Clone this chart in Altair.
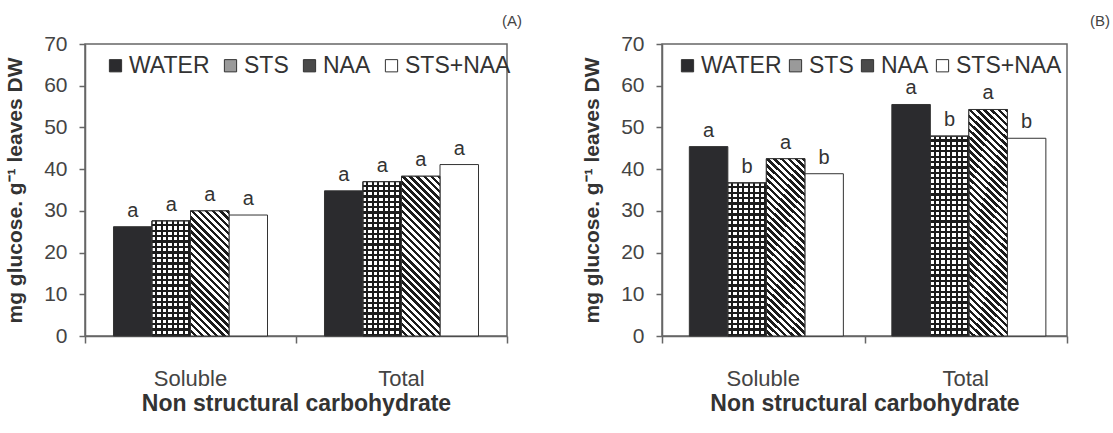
import altair as alt

# ---- data -------------------------------------------------------------
categories = ["Soluble", "Total"]
treatments = ["WATER", "STS", "NAA", "STS+NAA"]

# Panel (A)
a_soluble = [26.2, 27.6, 30.0, 29.0]
a_total = [34.8, 37.0, 38.3, 41.1]
a_letters_soluble = ["a", "a", "a", "a"]
a_letters_total = ["a", "a", "a", "a"]

# Panel (B)
b_soluble = [45.4, 36.7, 42.5, 38.9]
b_total = [55.5, 47.9, 54.3, 47.4]
b_letters_soluble = ["a", "b", "a", "b"]
b_letters_total = ["a", "b", "a", "b"]

# ---- layout / style ----------------------------------------------------
Y_MAX = 70
PLOT_H = 292
WIDTH_A = 422
WIDTH_B = 405
PAD_INNER = 0.27
FONT = "Liberation Sans"
INK = "#1c1c1c"
AXIS_GREY = "#666666"
legend_fill = ["#2b2b2e", "#9a9a9a", "#4a4a4a", "#ffffff"]


def stripe_stops(n, ink, gap, duty):
    """Hard-edged alternating stops: n periods, `duty` share of gap colour."""
    stops = []
    for i in range(n):
        a, b, c = i / n, (i + duty) / n, (i + 1) / n
        stops += [
            {"offset": a, "color": gap},
            {"offset": b, "color": gap},
            {"offset": b, "color": ink},
            {"offset": c, "color": ink},
        ]
    return stops


def diagonal_fill(w, h, period=7.0):
    # gradient vector in bounding-box units chosen so stripes run at 45 degrees
    k = h / w
    du = (1 + k) / (1 + k * k)
    n = max(1, round((w + h) / period))
    return {"gradient": "linear", "x1": 0, "y1": 1, "x2": du, "y2": 1 - du * k,
            "stops": stripe_stops(n, INK, "#ffffff", 0.5)}


def columns_fill(w, period=5.4):
    n = max(1, round(w / period))
    return {"gradient": "linear", "x1": 0, "y1": 0, "x2": 1, "y2": 0,
            "stops": stripe_stops(n, INK, "#ffffff", 0.58)}


def rows_fill(h, period=5.4):
    n = max(1, round(h / period))
    return {"gradient": "linear", "x1": 0, "y1": 0, "x2": 0, "y2": 1,
            "stops": stripe_stops(n, INK, "rgba(255,255,255,0)", 0.58)}


def build_records(sol, tot, let_s, let_t, plot_w):
    bar_w = plot_w / len(categories) * (1 - PAD_INNER) / len(treatments)
    recs = []
    for cat, vals, lets in ((categories[0], sol, let_s), (categories[1], tot, let_t)):
        for t, v, l in zip(treatments, vals, lets):
            h = v / Y_MAX * PLOT_H
            rec = {"cat": cat, "treat": t, "value": v, "letter": l}
            if t == "NAA":
                rec["g1"] = diagonal_fill(bar_w, h)
            elif t == "STS":
                rec["g1"] = columns_fill(bar_w)
                rec["g2"] = rows_fill(h)
            recs.append(rec)
    return recs


def panel(recs, plot_w, tag, tag_dx, legend_x, legend_gap):
    data = alt.Data(values=recs)

    x_enc = alt.X(
        "cat:N", sort=categories,
        scale=alt.Scale(domain=categories, paddingInner=PAD_INNER, paddingOuter=PAD_INNER / 2),
        axis=alt.Axis(orient="bottom", title="Non structural carbohydrate", ticks=False,
                      domain=False, labelAngle=0, labelPadding=32, labelFontSize=22,
                      labelColor="#444444", labelFont=FONT, titleFont=FONT,
                      titleFontSize=23, titleFontWeight="bold", titleColor="#333333",
                      titlePadding=3),
    )
    xo_enc = alt.XOffset("treat:N", sort=treatments,
                         scale=alt.Scale(domain=treatments, paddingInner=0, paddingOuter=0))
    y_enc = alt.Y(
        "value:Q",
        scale=alt.Scale(domain=[0, Y_MAX], nice=False),
        axis=alt.Axis(values=list(range(0, Y_MAX + 1, 10)), grid=False,
                      title="mg glucose. g\u207b\u00b9 leaves  DW",
                      tickSize=6, tickColor=AXIS_GREY, tickWidth=1.5,
                      domainColor=AXIS_GREY, domainWidth=1.5,
                      labelFontSize=21, labelColor="#444444", labelFont=FONT,
                      labelPadding=12, titleFont=FONT, titleFontSize=21,
                      titleFontWeight="bold", titleColor="#333333", titlePadding=18),
    )

    base = alt.Chart(data).mark_bar(stroke="#333333", strokeWidth=1).encode(
        x=x_enc, xOffset=xo_enc, y=y_enc,
        fill=alt.Fill(
            "treat:N", sort=treatments,
            scale=alt.Scale(domain=treatments, range=legend_fill),
            legend=alt.Legend(orient="none", legendX=legend_x, legendY=10,
                              direction="horizontal", title=None, symbolType="square",
                              symbolSize=150, symbolStrokeColor="#333333",
                              symbolStrokeWidth=1, labelFontSize=23,
                              labelColor="#333333", labelFont=FONT, labelOffset=2,
                              columnPadding=legend_gap),
        ),
    )

    naa = alt.Chart(data).transform_filter(alt.datum.treat == "NAA").mark_bar(
        stroke="#333333", strokeWidth=1
    ).encode(x=x_enc, xOffset=xo_enc, y=y_enc, fill=alt.Fill("g1:N", scale=None))

    sts_cols = alt.Chart(data).transform_filter(alt.datum.treat == "STS").mark_bar(
        stroke="#333333", strokeWidth=1
    ).encode(x=x_enc, xOffset=xo_enc, y=y_enc, fill=alt.Fill("g1:N", scale=None))

    sts_rows = alt.Chart(data).transform_filter(alt.datum.treat == "STS").mark_bar(
        stroke="#333333", strokeWidth=1
    ).encode(x=x_enc, xOffset=xo_enc, y=y_enc, fill=alt.Fill("g2:N", scale=None))

    letters = alt.Chart(data).mark_text(
        dy=-10, baseline="alphabetic", fontSize=20, font=FONT, color="#333333"
    ).encode(x=x_enc, xOffset=xo_enc, y=y_enc, text="letter:N")

    # category-boundary ticks on the x axis
    edges = alt.Chart(alt.Data(values=[{"edge": e} for e in range(len(categories) + 1)])).mark_point(
        opacity=0
    ).encode(
        x=alt.X("edge:Q", scale=alt.Scale(domain=[0, len(categories)], nice=False, zero=False),
                axis=alt.Axis(orient="bottom", values=list(range(len(categories) + 1)),
                              labels=False, ticks=True, tickSize=7, tickColor=AXIS_GREY,
                              tickWidth=1.5, domain=True, domainColor=AXIS_GREY,
                              domainWidth=1.5, grid=False, title=None))
    )

    inner = alt.layer(base, naa, sts_cols, sts_rows, letters)
    return alt.layer(inner, edges).resolve_scale(x="independent").properties(
        width=plot_w, height=PLOT_H,
        title=alt.TitleParams(text=tag, anchor="end", frame="group", dx=tag_dx, fontSize=15,
                              fontWeight="normal", color="#444444", font=FONT, offset=4),
    )


panel_a = panel(build_records(a_soluble, a_total, a_letters_soluble, a_letters_total, WIDTH_A),
                WIDTH_A, "(A)", 15, 19, 9)
panel_b = panel(build_records(b_soluble, b_total, b_letters_soluble, b_letters_total, WIDTH_B),
                WIDTH_B, "(B)", 43, 14, 2)

chart = (
    alt.hconcat(panel_a, panel_b, spacing=155, bounds="flush")
    .resolve_scale(fill="independent")
    .resolve_legend(fill="independent")
    .properties(padding={"left": 3, "top": 13, "right": 0, "bottom": 0})
    .configure(font=FONT)
    .configure_view(stroke=AXIS_GREY, strokeWidth=1.5)
)

chart.save("out.html", embed_options={"renderer": "svg", "actions": False})
